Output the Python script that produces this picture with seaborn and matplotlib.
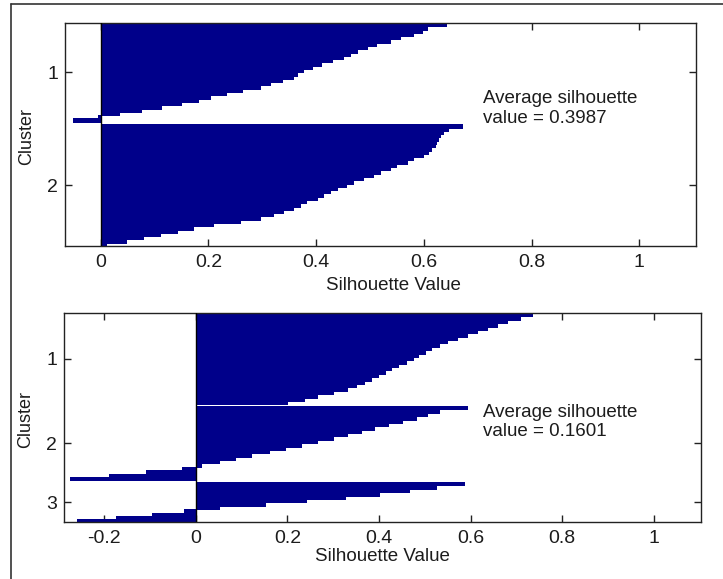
import numpy as np
import pandas as pd
import matplotlib
matplotlib.use("Agg")
import matplotlib.pyplot as plt
import seaborn as sns
from matplotlib.lines import Line2D

# ---------------- data ----------------
top_cluster_labels = ["1", "2"]
top_c1 = [0.641, 0.605, 0.596, 0.580, 0.555, 0.537, 0.512, 0.494, 0.475, 0.463,
          0.450, 0.430, 0.410, 0.392, 0.376, 0.365, 0.357, 0.337, 0.315, 0.296,
          0.262, 0.232, 0.203, 0.180, 0.150, 0.112, 0.075, 0.035, -0.005, -0.052]
top_c2 = [0.670, 0.645, 0.636, 0.630, 0.626, 0.623, 0.620, 0.614, 0.608, 0.599,
          0.580, 0.568, 0.549, 0.537, 0.518, 0.506, 0.487, 0.469, 0.456, 0.438,
          0.425, 0.413, 0.401, 0.382, 0.370, 0.357, 0.339, 0.320, 0.296, 0.258,
          0.209, 0.172, 0.141, 0.110, 0.079, 0.048, 0.011]
top_avg = 0.3987

bot_cluster_labels = ["1", "2", "3"]
bot_c1 = [0.735, 0.708, 0.680, 0.657, 0.635, 0.613, 0.591, 0.570, 0.549, 0.531,
          0.514, 0.500, 0.486, 0.474, 0.459, 0.441, 0.427, 0.412, 0.397, 0.383,
          0.368, 0.349, 0.330, 0.300, 0.265, 0.235, 0.200]
bot_c2 = [0.591, 0.530, 0.505, 0.480, 0.450, 0.420, 0.390, 0.360, 0.330, 0.300,
          0.265, 0.230, 0.195, 0.160, 0.120, 0.085, 0.050, 0.012, -0.030, -0.110,
          -0.190, -0.275]
bot_c3 = [0.585, 0.525, 0.465, 0.400, 0.325, 0.240, 0.150, 0.050,
          -0.025, -0.095, -0.175, -0.260]
bot_avg = 0.1601

top_xticks = [0, 0.2, 0.4, 0.6, 0.8, 1]
top_xticklabels = ["0", "0.2", "0.4", "0.6", "0.8", "1"]
bot_xticks = [-0.2, 0, 0.2, 0.4, 0.6, 0.8, 1]
bot_xticklabels = ["-0.2", "0", "0.2", "0.4", "0.6", "0.8", "1"]

x_label = "Silhouette Value"
y_label = "Cluster"
avg_text = "Average silhouette\nvalue = {:.4f}"

# ---------------- style ----------------
sns.set_style("white")
plt.rcParams['font.family'] = ['Liberation Sans', 'DejaVu Sans']

BAR_COLOR = "#00008A"
TXT = "#1c1c1c"


def build(clusters, gap):
    rows, ticks = [], []
    pos = 0.0
    for k, vals in enumerate(clusters):
        ys = pos + np.arange(len(vals))
        ticks.append(float(ys.mean()))
        for y, v in zip(ys, vals):
            rows.append((round(float(y), 4), v, k + 1))
        pos = ys[-1] + 1 + gap
    return pd.DataFrame(rows, columns=["pos", "value", "cluster"]), ticks


fig = plt.figure(figsize=(7.23, 5.79), dpi=100)
fig.patch.set_facecolor("white")

ax1 = fig.add_axes([65 / 723, 1 - 246 / 579, 631 / 723, 223 / 579])
ax2 = fig.add_axes([64 / 723, 1 - 522 / 579, 637 / 723, 209 / 579])

panels = [
    (ax1, [top_c1, top_c2], top_cluster_labels, 0.8, (-0.066, 1.105), (67.3, -0.5),
     top_xticks, top_xticklabels, top_avg, 0.52, -0.175, (0.662, 0.617)),
    (ax2, [bot_c1, bot_c2, bot_c3], bot_cluster_labels, 0.5, (-0.288, 1.103), (61.3, -0.5),
     bot_xticks, bot_xticklabels, bot_avg, 0.50, -0.163, (0.658, 0.478)),
]

for (ax, clusters, clabels, gap, xlim, ylim, xt, xtl, avg, xlx, xly, tpos) in panels:
    df, ticks = build(clusters, gap)
    sns.barplot(data=df, x="value", y="pos", orient="h", native_scale=True,
                width=1.0, color=BAR_COLOR, saturation=1, errorbar=None,
                edgecolor=BAR_COLOR, linewidth=0.6, antialiased=False, ax=ax)
    ax.axvline(0, color="black", lw=1.0, zorder=5)
    ax.set_xlim(*xlim)
    ax.set_ylim(*ylim)
    ax.set_xticks(xt, xtl)
    ax.set_yticks(ticks, clabels)
    ax.tick_params(axis="both", direction="in", length=5, width=1, color="#222222",
                   bottom=True, top=True, left=True, right=True,
                   labelsize=14, labelcolor=TXT)
    ax.tick_params(axis="x", pad=5.5)
    ax.tick_params(axis="y", pad=5)
    for sp in ax.spines.values():
        sp.set_visible(True)
        sp.set_color("#222222")
        sp.set_linewidth(1.0)
    ax.grid(False)
    ax.set_xlabel(x_label, fontsize=13.5, color=TXT)
    ax.xaxis.set_label_coords(xlx, xly)
    ax.xaxis.label.set_va("center")
    ax.set_ylabel(y_label, fontsize=13, color=TXT)
    ax.yaxis.set_label_coords(-0.061, 0.49)
    ax.yaxis.label.set_va("center")
    ax.text(tpos[0], tpos[1], avg_text.format(avg), transform=ax.transAxes,
            fontsize=13.5, color=TXT, ha="left", va="center")

# outer frame (left and top edges)
fig.add_artist(Line2D([11 / 723, 11 / 723], [0, 1 - 4 / 579],
                      transform=fig.transFigure, color="#333333", lw=1.2))
fig.add_artist(Line2D([11 / 723, 1], [1 - 4 / 579, 1 - 4 / 579],
                      transform=fig.transFigure, color="#333333", lw=1.2))

fig.savefig("out.png", dpi=100, facecolor="white")
